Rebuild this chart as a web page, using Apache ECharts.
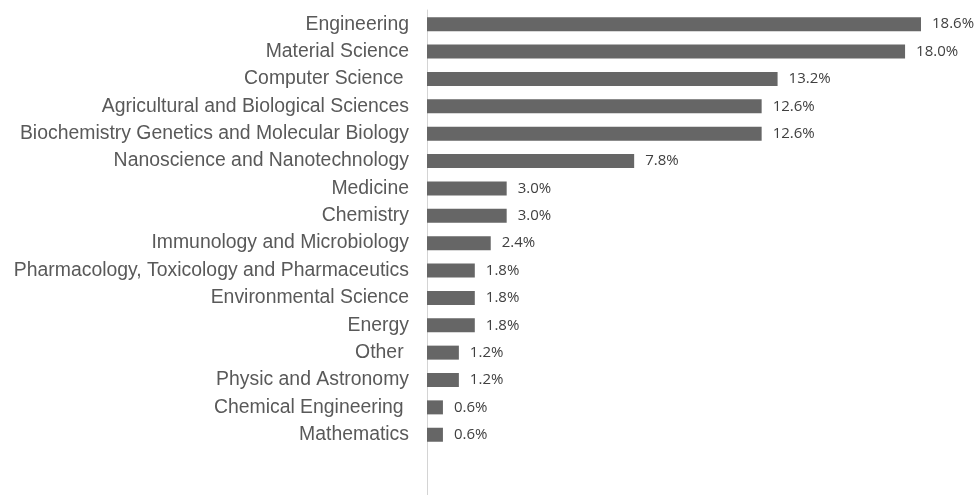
<!DOCTYPE html>
<html>
<head>
<meta charset="utf-8">
<script src="https://cdn.jsdelivr.net/npm/echarts@6/dist/echarts.min.js"></script>
<style>html,body{margin:0;padding:0;background:#fff}#c{width:975px;height:495px}</style>
</head>
<body>
<div id="c"></div>
<script>
const categories = [
  "Engineering",
  "Material Science",
  "Computer Science ",
  "Agricultural and Biological Sciences",
  "Biochemistry Genetics and Molecular Biology",
  "Nanoscience and Nanotechnology",
  "Medicine",
  "Chemistry",
  "Immunology and Microbiology",
  "Pharmacology, Toxicology and Pharmaceutics",
  "Environmental Science",
  "Energy",
  "Other ",
  "Physic and Astronomy",
  "Chemical Engineering ",
  "Mathematics"
];
const values = [18.6, 18.0, 13.2, 12.6, 12.6, 7.8, 3.0, 3.0, 2.4, 1.8, 1.8, 1.8, 1.2, 1.2, 0.6, 0.6];

const chart = echarts.init(document.getElementById('c'), null, {renderer: 'canvas'});
chart.setOption({
  animation: false,
  backgroundColor: '#ffffff',
  grid: [
    {left: 427, right: 54, top: 10.5, height: 465.3, containLabel: false},
    {left: 427, right: 54, top: 10, bottom: 0, containLabel: false}
  ],
  xAxis: [
    {type: 'value', min: 0, max: 18.6, show: false, gridIndex: 0},
    {type: 'value', min: 0, max: 1, show: false, gridIndex: 1}
  ],
  yAxis: [
    {
      type: 'category',
      gridIndex: 0,
      inverse: true,
      data: categories,
      max: 16,
      axisLine: {show: false},
      axisTick: {show: false},
      axisLabel: {
        color: '#595959',
        fontFamily: 'Liberation Sans, Arial, sans-serif',
        fontSize: 19.4,
        margin: 18,
        formatter: v => (v == null ? '' : v)
      }
    },
    {
      type: 'value',
      gridIndex: 1,
      min: 0, max: 1,
      axisLine: {show: true, lineStyle: {color: '#d4d4d4', width: 1}},
      axisTick: {show: false},
      axisLabel: {show: false},
      splitLine: {show: false}
    }
  ],
  series: [{
    type: 'bar',
    xAxisIndex: 0,
    yAxisIndex: 0,
    data: values,
    barWidth: 14,
    itemStyle: {color: '#666666'},
    label: {
      show: true,
      position: 'right',
      distance: 11,
      color: '#404040',
      fontFamily: 'Open Sans, Liberation Sans, sans-serif',
      fontSize: 15,
      formatter: p => p.value.toFixed(1) + '%'
    }
  }]
});
</script>
</body>
</html>
